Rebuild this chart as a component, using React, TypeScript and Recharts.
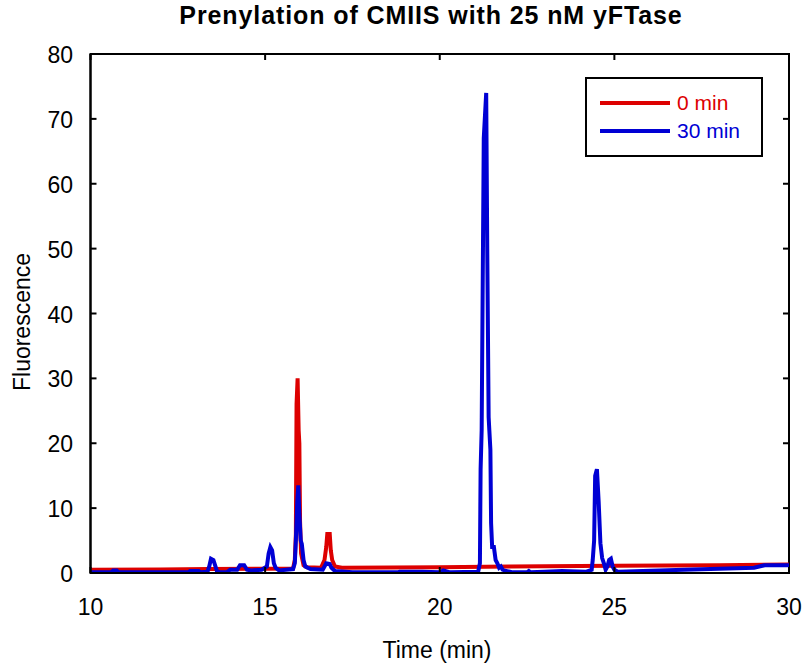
import { Label, Line, LineChart, ReferenceArea, XAxis, YAxis } from "recharts";

// retention time (min) / fluorescence
const time0 = [10, 12, 13.4, 15.0, 15.8, 15.85, 15.88, 15.9, 15.93, 15.96, 15.98, 16.0, 16.03, 16.1, 16.2, 16.6, 16.7, 16.75, 16.78, 16.85, 16.88, 16.92, 17.0, 17.2, 20, 22, 25, 28, 30];
const fluor0 = [0.5, 0.55, 0.6, 0.65, 0.7, 2, 6, 26, 30, 22, 20, 8, 3, 1.2, 0.9, 0.8, 2, 4, 6, 6, 3.5, 2, 1.0, 0.8, 0.9, 1.0, 1.1, 1.2, 1.3];

const time30 = [
  10, 10.6, 10.65, 10.75, 10.8, 12.8, 12.85, 13.1, 13.15, 13.35, 13.4, 13.45, 13.52, 13.58, 13.62, 13.7,
  13.9, 14.0, 14.2, 14.28, 14.4, 14.48, 14.6, 14.9, 15.05, 15.1, 15.15, 15.2, 15.25, 15.3, 15.4, 15.6,
  15.8, 15.85, 15.88, 15.92, 15.95, 15.98, 16.02, 16.05, 16.1, 16.15, 16.3, 16.65, 16.7, 16.75, 16.85, 16.9,
  17.0, 17.5, 18.8, 18.85, 19.5, 20.0, 20.1, 20.3, 21.1, 21.15, 21.17, 21.2, 21.26, 21.33, 21.36, 21.4,
  21.42, 21.45, 21.47, 21.5, 21.55, 21.6, 21.65, 21.7, 21.75, 21.8, 21.9, 22.1, 22.5, 22.55, 22.6, 23.0,
  23.5, 24.2, 24.35, 24.38, 24.42, 24.45, 24.5, 24.55, 24.6, 24.65, 24.7, 24.75, 24.8, 24.85, 24.9, 24.95,
  25.0, 25.1, 27.0, 29.0, 29.3, 30,
];
const fluor30 = [
  0.1, 0.1, 0.4, 0.4, 0.1, 0.1, 0.3, 0.3, 0.1, 0.2, 1.0, 2.2, 2.0, 1.0, 0.3, 0.1,
  0.1, 0.5, 0.5, 1.2, 1.2, 0.5, 0.4, 0.5, 1.0, 3.0, 4.0, 3.5, 1.5, 0.8, 0.4, 0.5,
  0.6, 1.5, 5, 11, 13.5, 9, 5, 4.5, 2, 1.0, 0.6, 0.5, 1.0, 1.5, 1.4, 0.8,
  0.3, 0.1, 0.1, 0.2, 0.2, 0.1, 0.4, 0.1, 0.2, 1.5, 16, 22, 67, 74, 50, 24,
  22, 19, 7.7, 4, 4, 2, 1.5, 0.8, 1.0, 0.5, 0.3, 0.1, 0.1, 0.3, 0.1, 0.2,
  0.3, 0.2, 0.5, 2, 5, 15, 16, 11, 4.6, 2.3, 1.5, 0.5, 1.0, 2.0, 2.2, 1.0,
  0.5, 0.2, 0.5, 0.8, 1.2, 1.2,
];

const xTicks = [10, 15, 20, 25, 30];
const yTicks = [0, 10, 20, 30, 40, 50, 60, 70, 80];

const series0 = time0.map((t, i) => ({ t, v: fluor0[i] }));
const series30 = time30.map((t, i) => ({ t, v: fluor30[i] }));

const RED = "#dd0000";
const BLUE = "#0000d4";
const FONT = "'Liberation Sans', Arial, sans-serif";

const PLOT = { left: 90.5, right: 789, top: 54, bottom: 573 };
const TICK = 6;

function XTick(props: any) {
  const { x, payload } = props;
  return (
    <g>
      <line x1={x} x2={x} y1={PLOT.bottom} y2={PLOT.bottom - TICK} stroke="#000" strokeWidth={2} />
      <line x1={x} x2={x} y1={PLOT.top} y2={PLOT.top + TICK} stroke="#000" strokeWidth={2} />
      <text x={x} y={PLOT.bottom + 34} textAnchor="middle" dominantBaseline="central" fontSize={23} fontFamily={FONT} fill="#000">
        {payload.value}
      </text>
    </g>
  );
}

function YTick(props: any) {
  const { y, payload } = props;
  return (
    <g>
      <line x1={PLOT.left} x2={PLOT.left + TICK} y1={y} y2={y} stroke="#000" strokeWidth={2} />
      <line x1={PLOT.right - TICK} x2={PLOT.right} y1={y} y2={y} stroke="#000" strokeWidth={2} />
      <text x={73} y={y + 1} textAnchor="end" dominantBaseline="central" fontSize={23} fontFamily={FONT} fill="#000">
        {payload.value}
      </text>
    </g>
  );
}

function LegendBox() {
  const rows = [
    { name: "0 min", color: RED },
    { name: "30 min", color: BLUE },
  ];
  return (
    <div style={{ position: "absolute", left: 585, top: 77, width: 174, height: 76, border: "2px solid #000", background: "#fff", fontFamily: FONT }}>
      {rows.map((r, i) => (
        <div key={r.name} style={{ position: "absolute", left: 13, top: 12 + i * 27.5, height: 24, display: "flex", alignItems: "center" }}>
          <div style={{ width: 70, height: 4, background: r.color }} />
          <span style={{ marginLeft: 7, color: r.color, fontSize: 21 }}>{r.name}</span>
        </div>
      ))}
    </div>
  );
}

export default function App() {
  return (
    <div style={{ position: "absolute", left: 0, top: 0, width: 807, height: 667, background: "#fff" }}>
      <div
        style={{
          position: "absolute",
          left: 0,
          width: 862,
          top: 1,
          textAlign: "center",
          fontFamily: FONT,
          fontWeight: "bold",
          fontSize: 25,
          letterSpacing: 0.9,
          whiteSpace: "nowrap",
        }}
      >
        Prenylation of CMIIS with 25 nM yFTase
      </div>
      <LineChart width={807} height={667} margin={{ top: 54, right: 18, bottom: 54, left: 30.5 }}>
        <XAxis
          dataKey="t"
          type="number"
          domain={[10, 30]}
          ticks={xTicks}
          allowDataOverflow
          height={40}
          tickLine={false}
          tickSize={0}
          axisLine={{ stroke: "#000", strokeWidth: 2 }}
          tick={<XTick />}
        >
          <Label
            content={() => (
              <text x={437} y={650} textAnchor="middle" dominantBaseline="central" fontSize={23} fontFamily={FONT}>
                Time (min)
              </text>
            )}
          />
        </XAxis>
        <YAxis
          type="number"
          domain={[0, 80]}
          ticks={yTicks}
          allowDataOverflow
          width={60}
          tickLine={false}
          tickSize={0}
          axisLine={{ stroke: "#000", strokeWidth: 2 }}
          tick={<YTick />}
        >
          <Label
            content={() => (
              <text x={22} y={322} transform="rotate(-90 22 322)" textAnchor="middle" dominantBaseline="central" fontSize={23} fontFamily={FONT}>
                Fluorescence
              </text>
            )}
          />
        </YAxis>
        <ReferenceArea x1={10} x2={30} y1={0} y2={80} fill="none" fillOpacity={0} stroke="#000" strokeWidth={2} />
        <Line data={series0} dataKey="v" name="0 min" type="linear" stroke={RED} strokeWidth={4} dot={false} isAnimationActive={false} />
        <Line data={series30} dataKey="v" name="30 min" type="linear" stroke={BLUE} strokeWidth={4} dot={false} isAnimationActive={false} />
      </LineChart>
      <LegendBox />
    </div>
  );
}
